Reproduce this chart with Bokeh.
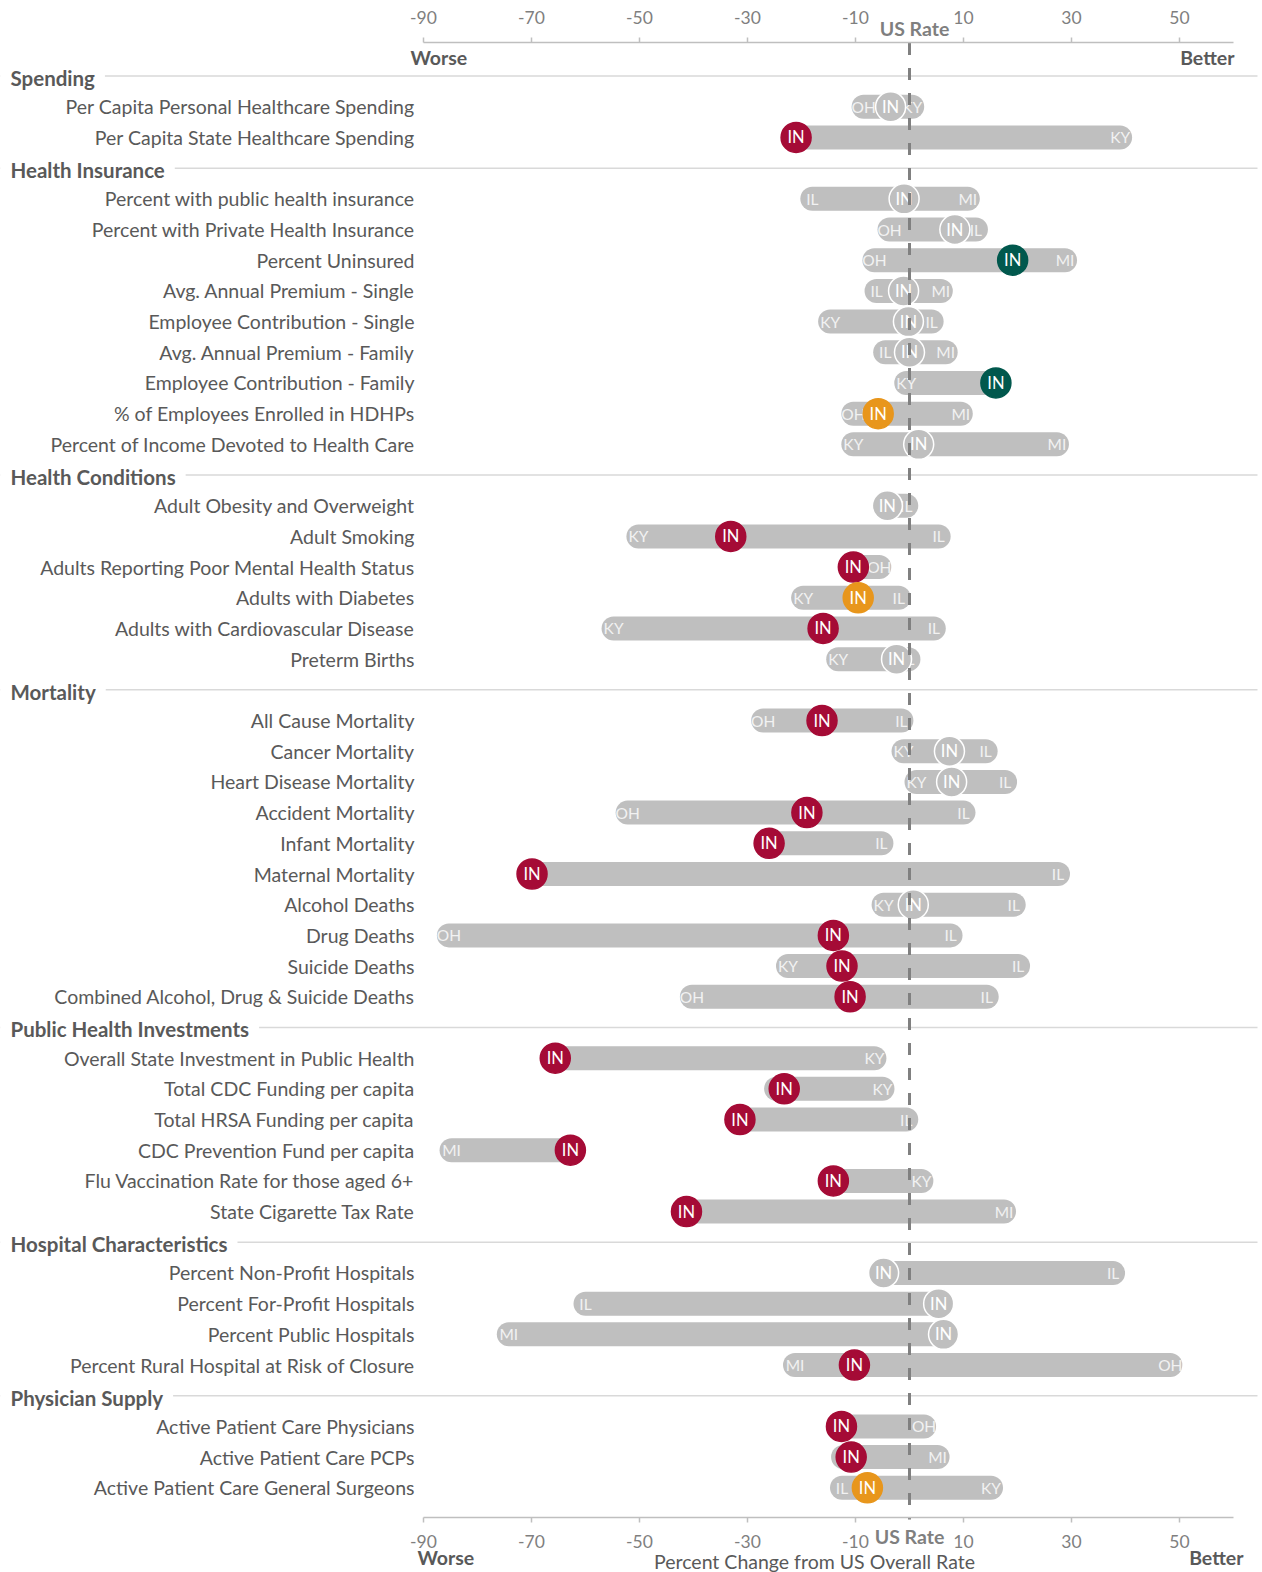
from bokeh.plotting import figure
from bokeh.models import Range1d, LinearAxis, FixedTicker, ColumnDataSource
from bokeh.core.properties import value
from bokeh.embed import file_html
from bokeh.resources import INLINE

# ---------------- data ----------------
sections = ["Spending", "Health Insurance", "Health Conditions", "Mortality",
            "Public Health Investments", "Hospital Characteristics", "Physician Supply"]
section_sizes = [2, 9, 6, 10, 6, 4, 3]

metrics = [
    "Per Capita Personal Healthcare Spending", "Per Capita State Healthcare Spending",
    "Percent with public health insurance", "Percent with Private Health Insurance",
    "Percent Uninsured", "Avg. Annual Premium - Single", "Employee Contribution - Single",
    "Avg. Annual Premium - Family", "Employee Contribution - Family",
    "% of Employees Enrolled in HDHPs", "Percent of Income Devoted to Health Care",
    "Adult Obesity and Overweight", "Adult Smoking", "Adults Reporting Poor Mental Health Status",
    "Adults with Diabetes", "Adults with Cardiovascular Disease", "Preterm Births",
    "All Cause Mortality", "Cancer Mortality", "Heart Disease Mortality", "Accident Mortality",
    "Infant Mortality", "Maternal Mortality", "Alcohol Deaths", "Drug Deaths", "Suicide Deaths",
    "Combined Alcohol, Drug & Suicide Deaths",
    "Overall State Investment in Public Health", "Total CDC Funding per capita",
    "Total HRSA Funding per capita", "CDC Prevention Fund per capita",
    "Flu Vaccination Rate for those aged 6+", "State Cigarette Tax Rate",
    "Percent Non-Profit Hospitals", "Percent For-Profit Hospitals", "Percent Public Hospitals",
    "Percent Rural Hospital at Risk of Closure",
    "Active Patient Care Physicians", "Active Patient Care PCPs",
    "Active Patient Care General Surgeons",
]

in_values = [-3.5, -21.0,
             -1.0, 8.4, 19.1, -1.1, -0.2, 0.0, 16.0, -5.8, 1.7,
             -4.1, -33.1, -10.4, -9.5, -16.0, -2.4,
             -16.2, 7.4, 7.8, -19.0, -26.0, -69.9, 0.7, -14.1, -12.5, -11.0,
             -65.6, -23.2, -31.4, -62.8, -14.1, -41.3,
             -4.8, 5.4, 6.3, -10.2,
             -12.6, -10.8, -7.8]

in_status = ["ns", "worse",
             "ns", "ns", "better", "ns", "ns", "ns", "better", "middle", "ns",
             "ns", "worse", "worse", "middle", "worse", "ns",
             "worse", "ns", "ns", "worse", "worse", "worse", "ns", "worse", "worse", "worse",
             "worse", "worse", "worse", "worse", "worse", "worse",
             "ns", "ns", "ns", "worse",
             "worse", "worse", "middle"]

low_states = ["OH", None,
              "IL", "OH", "OH", "IL", "KY", "IL", "KY", "OH", "KY",
              None, "KY", None, "KY", "KY", "KY",
              "OH", "KY", "KY", "OH", None, None, "KY", "OH", "KY", "OH",
              None, "", None, "MI", None, None,
              None, "IL", "MI", "MI",
              None, "", "IL"]
low_values = [-8.5, None,
              -18.0, -3.7, -6.5, -6.1, -14.7, -4.5, -0.6, -10.4, -10.4,
              None, -50.2, None, -19.7, -54.8, -13.2,
              -27.1, -1.1, 1.3, -52.2, None, None, -4.8, -85.3, -22.5, -40.3,
              None, -24.7, None, -84.8, None, None,
              None, -60.0, -74.2, -21.2,
              None, -12.3, -12.5]

high_states = ["KY", "KY",
               "MI", "IL", "MI", "MI", "IL", "MI", None, "MI", "MI",
               "IL", "IL", "OH", "IL", "IL", "IL",
               "IL", "IL", "IL", "IL", "IL", "IL", "IL", "IL", "IL", "IL",
               "KY", "KY", "IL", None, "KY", "MI",
               "IL", None, None, "OH",
               "OH", "MI", "KY"]
high_values = [0.5, 39.0,
               10.8, 12.3, 28.8, 5.8, 4.1, 6.7, None, 9.5, 27.3,
               -0.6, 5.4, -5.6, -2.0, 4.5, -0.2,
               -1.5, 14.1, 17.7, 10.0, -5.2, 27.5, 19.3, 7.6, 20.1, 14.3,
               -6.5, -5.0, -0.6, None, 2.2, 17.5,
               37.7, None, None, 48.3,
               2.7, 5.2, 15.1]

x_ticks = [-90, -70, -50, -30, -10, 10, 30, 50]
x_tick_labels = ["-90", "-70", "-50", "-30", "-10", "10", "30", "50"]
axis_title = "Percent Change from US Overall Rate"

# ---------------- layout helpers ----------------
FONT = "Lato"
PAGE_W, PAGE_H = 1262, 1572
ZERO_PX = 909.0      # page x of the US rate (0)
UNIT_PX = 5.40       # pixels per percentage point
FIRST_ROW_PX = 106.25
ROW_PX = 30.69
TOP_AXIS_PX = 41.5
BOTTOM_AXIS_PX = 1517.0
RULE_END_PX = 1257.0


def px_to_x(px):
    return (px - ZERO_PX) / UNIT_PX


def px_to_slot(py):
    return 1 + (py - FIRST_ROW_PX) / ROW_PX


x_start = px_to_x(0)
x_end = px_to_x(PAGE_W)

status_colors = {"worse": "#A50B36", "better": "#01584D", "middle": "#E8961C", "ns": "#BFBFBF"}
BAR = "#BFBFBF"
DARK = "#595959"
MID = "#7F7F7F"

header_slots, row_slots = [], []
slot = 0
for name, n in zip(sections, section_sizes):
    header_slots.append(slot)
    slot += 1
    for _ in range(n):
        row_slots.append(slot)
        slot += 1

p = figure(frame_width=PAGE_W, frame_height=PAGE_H,
           x_range=Range1d(x_start, x_end),
           y_range=Range1d(px_to_slot(PAGE_H), px_to_slot(0)),
           x_axis_type=None, y_axis_type=None,
           output_backend="svg", toolbar_location=None, min_border=0)
p.outline_line_color = None
p.background_fill_color = "white"
p.border_fill_color = "white"

# section header lines and texts
head_text_y = [s + 2.0 / ROW_PX for s in header_slots]
p.segment(x0=[x_start] * len(sections), x1=[px_to_x(RULE_END_PX)] * len(sections),
          y0=header_slots, y1=header_slots, line_color="#D9D9D9", line_width=1.5)
p.text(x=[x_start] * len(sections), y=head_text_y, text=sections,
       text_font=value(FONT), text_font_style="bold", text_font_size="20.5px",
       text_color=DARK, text_align="left", text_baseline="middle",
       background_fill_color="white", padding=10)

# row labels
p.text(x=[px_to_x(414)] * len(metrics), y=row_slots, text=metrics,
       text_font=value(FONT), text_font_size="19.5px", text_color=DARK,
       text_align="right", text_baseline="middle")

# bars
bar_lo, bar_hi = [], []
for iv, lv, hv in zip(in_values, low_values, high_values):
    bar_lo.append(min(iv, lv) if lv is not None else iv)
    bar_hi.append(max(iv, hv) if hv is not None else iv)
p.segment(x0=bar_lo, x1=bar_hi, y0=row_slots, y1=row_slots,
          line_color=BAR, line_width=24, line_cap="round")

# state labels at ends
sx, sy, st = [], [], []
for s_, lv, hs, hv, y in zip(low_states, low_values, high_states, high_values, row_slots):
    if lv is not None and s_:
        sx.append(lv); sy.append(y); st.append(s_)
    if hv is not None and hs:
        sx.append(hv); sy.append(y); st.append(hs)
p.text(x=sx, y=sy, text=st, text_font=value(FONT), text_font_size="15.5px",
       text_color="#F2F2F2", text_align="center", text_baseline="middle")

# IN circles
src = ColumnDataSource(dict(
    x=in_values, y=row_slots,
    fill=[status_colors[s_] for s_ in in_status],
    line=["white" if s_ == "ns" else status_colors[s_] for s_ in in_status],
    lab=["IN"] * len(in_values),
))
p.scatter(x="x", y="y", source=src, marker="circle", size=30,
          fill_color="fill", line_color="line", line_width=1.5)
p.text(x="x", y="y", text="lab", source=src, text_font=value(FONT), text_font_size="16.5px",
       text_color="white", text_align="center", text_baseline="middle")

# US rate reference line (dashed, between the two axes)
p.segment(x0=[0], x1=[0], y0=[px_to_slot(TOP_AXIS_PX + 1)], y1=[px_to_slot(BOTTOM_AXIS_PX + 2)],
          line_color="#808080", line_width=3, line_dash="12 13")

# annotation texts around the axes
p.text(x=[px_to_x(914), px_to_x(909)], y=[px_to_slot(28.3), px_to_slot(1536)],
       text=["US Rate", "US Rate"], text_font=value(FONT), text_font_style="bold",
       text_font_size="19.5px", text_color=MID, text_align="center", text_baseline="middle")
p.text(x=[px_to_x(410), px_to_x(1234), px_to_x(417), px_to_x(1243)],
       y=[px_to_slot(56.7), px_to_slot(56.7), px_to_slot(1557), px_to_slot(1557)],
       text=["Worse", "Better", "Worse", "Better"],
       text_font=value(FONT), text_font_style="bold", text_font_size="19.5px",
       text_color=DARK, text_align=["left", "right", "left", "right"], text_baseline="middle")
p.text(x=[px_to_x(814)], y=[px_to_slot(1561)], text=[axis_title],
       text_font=value(FONT), text_font_size="19.5px",
       text_color=DARK, text_align="center", text_baseline="middle")


def make_axis(standoff, loc_px):
    ax = LinearAxis(ticker=FixedTicker(ticks=x_ticks), bounds=(-90, 60),
                    fixed_location=px_to_slot(loc_px))
    ax.major_label_overrides = dict(zip(x_ticks, x_tick_labels))
    ax.axis_line_color = "#BFBFBF"
    ax.axis_line_width = 1.5
    ax.major_tick_line_color = "#BFBFBF"
    ax.major_tick_line_width = 1.5
    ax.major_tick_out = 5
    ax.major_tick_in = 0
    ax.minor_tick_line_color = None
    ax.major_label_text_color = MID
    ax.major_label_text_font = FONT
    ax.major_label_text_font_size = "17.5px"
    ax.major_label_standoff = standoff
    return ax


p.add_layout(make_axis(13, TOP_AXIS_PX), "above")
p.add_layout(make_axis(12, BOTTOM_AXIS_PX), "below")

open("out.html", "w").write(file_html(p, INLINE))
